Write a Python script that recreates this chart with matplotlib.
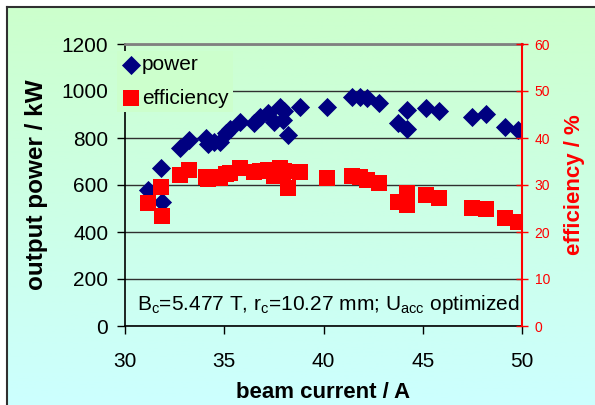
import numpy as np
import matplotlib
matplotlib.use('Agg')
import matplotlib.pyplot as plt
from matplotlib.lines import Line2D

plt.rcParams['font.family'] = ['Liberation Sans', 'DejaVu Sans']
plt.rcParams['mathtext.fontset'] = 'custom'
plt.rcParams['mathtext.rm'] = 'Liberation Sans'
plt.rcParams['mathtext.it'] = 'Liberation Sans:italic'

# measured points (beam current / A)
beam_current = [31.15, 31.8, 31.85, 32.77, 33.2, 34.1, 34.2, 34.5, 34.8, 35.1, 35.3, 35.8,
                36.5, 36.8, 37.2, 37.5, 37.8, 37.95, 38.0, 38.2, 38.8, 40.2, 41.45, 41.85,
                42.2, 42.8, 43.75, 44.2, 44.2, 45.15, 45.8, 47.5, 48.2, 49.15, 49.8]
power_kw = [579, 671, 529, 756, 791, 800, 775, 785, 781, 820, 838, 869,
            862, 890, 905, 869, 933, 877, 915, 813, 930, 930, 976, 976,
            969, 950, 862, 919, 837, 926, 916, 891, 902, 848, 834]
efficiency_pct = [26.2, 29.6, 23.3, 32.1, 33.2, 31.8, 31.3, 31.6, 31.5, 32.3, 32.6, 33.6,
                  32.8, 33.0, 33.2, 32.0, 33.6, 32.5, 33.0, 29.3, 32.7, 31.4, 31.9, 31.6,
                  31.1, 30.4, 26.4, 28.2, 25.7, 27.9, 27.2, 25.2, 25.0, 22.9, 22.2]

x_ticks = [30, 35, 40, 45, 50]
power_ticks = [0, 200, 400, 600, 800, 1000, 1200]
eff_ticks = [0, 10, 20, 30, 40, 50, 60]

W, H = 595, 405
fig = plt.figure(figsize=(W / 100, H / 100), dpi=100)

# gradient background with frame
bg = fig.add_axes([0, 0, 1, 1], zorder=-1)
bg.set_xlim(0, W)
bg.set_ylim(0, H)
bg.axis('off')
top = np.array([204, 255, 204]) / 255
bottom = np.array([204, 255, 255]) / 255
t = np.linspace(0, 1, 256)[:, None]
grad = (top * (1 - t) + bottom * t)[:, None, :]
bg.imshow(grad, extent=[7, W, 0, H - 6], aspect='auto', origin='upper')
fig.add_artist(Line2D([6.5 / W, 6.5 / W], [0, 1 - 6.5 / H], color='#303030', lw=1.5))
fig.add_artist(Line2D([6.5 / W, 1], [1 - 6.5 / H, 1 - 6.5 / H], color='#303030', lw=1.5))

ax = fig.add_axes([125 / W, 79 / H, 397 / W, 282 / H])
ax.patch.set_visible(False)
ax.set_xlim(30, 50)
ax.set_ylim(0, 1200)
ax.set_xticks(x_ticks)
ax.set_yticks(power_ticks)
ax.grid(axis='y', color='#303030', lw=1)
ax.tick_params(axis='both', labelsize=15, direction='out', length=6, width=1, color='black')
ax.tick_params(axis='x', pad=13)
ax.tick_params(axis='y', pad=6)
ax.spines['top'].set_color('#808080')
ax.spines['top'].set_linewidth(2)
ax.spines['right'].set_visible(False)
ax.spines['left'].set_linewidth(1.2)
ax.spines['bottom'].set_linewidth(1.2)
ax.set_xlabel('beam current / A', fontsize=16, fontweight='bold', labelpad=8)
ax.set_ylabel('output power / kW', fontsize=17.5, fontweight='bold', labelpad=10)

p_handle = ax.scatter(beam_current, power_kw, marker='D', s=95, color='#000080',
                      linewidths=0, zorder=3, label='power')

ax.text(30.6, 90, r'B$_\mathrm{c}$=5.477 T, r$_\mathrm{c}$=10.27 mm; U$_\mathrm{acc}$ optimized',
        fontsize=15, va='center', ha='left', zorder=5)

ax2 = ax.twinx()
ax2.patch.set_visible(False)
ax2.set_ylim(0, 60)
ax2.set_yticks(eff_ticks)
for side in ['left', 'top', 'bottom']:
    ax2.spines[side].set_visible(False)
ax2.spines['right'].set_color('#FF0000')
ax2.spines['right'].set_linewidth(1.5)
ax2.tick_params(axis='y', labelsize=10, colors='#FF0000', direction='inout', length=8, width=1, pad=5)
ax2.set_ylabel('efficiency / %', fontsize=16, fontweight='bold', color='#FF0000', labelpad=10)

e_handle = ax2.scatter(beam_current, efficiency_pct, marker='s', s=130, color='#FF0000',
                       linewidths=0, zorder=3, label='efficiency')

leg = ax2.legend(handles=[p_handle, e_handle], loc='upper left', bbox_to_anchor=(-0.02, 0.975),
                 fontsize=15, frameon=True, facecolor='#CCFFCC', edgecolor='none', framealpha=1,
                 handletextpad=0.1, handlelength=0.9, labelspacing=0.7, borderpad=0.2,
                 borderaxespad=0.0, fancybox=False)
leg.set_zorder(10)

fig.savefig('out.png', dpi=100)
